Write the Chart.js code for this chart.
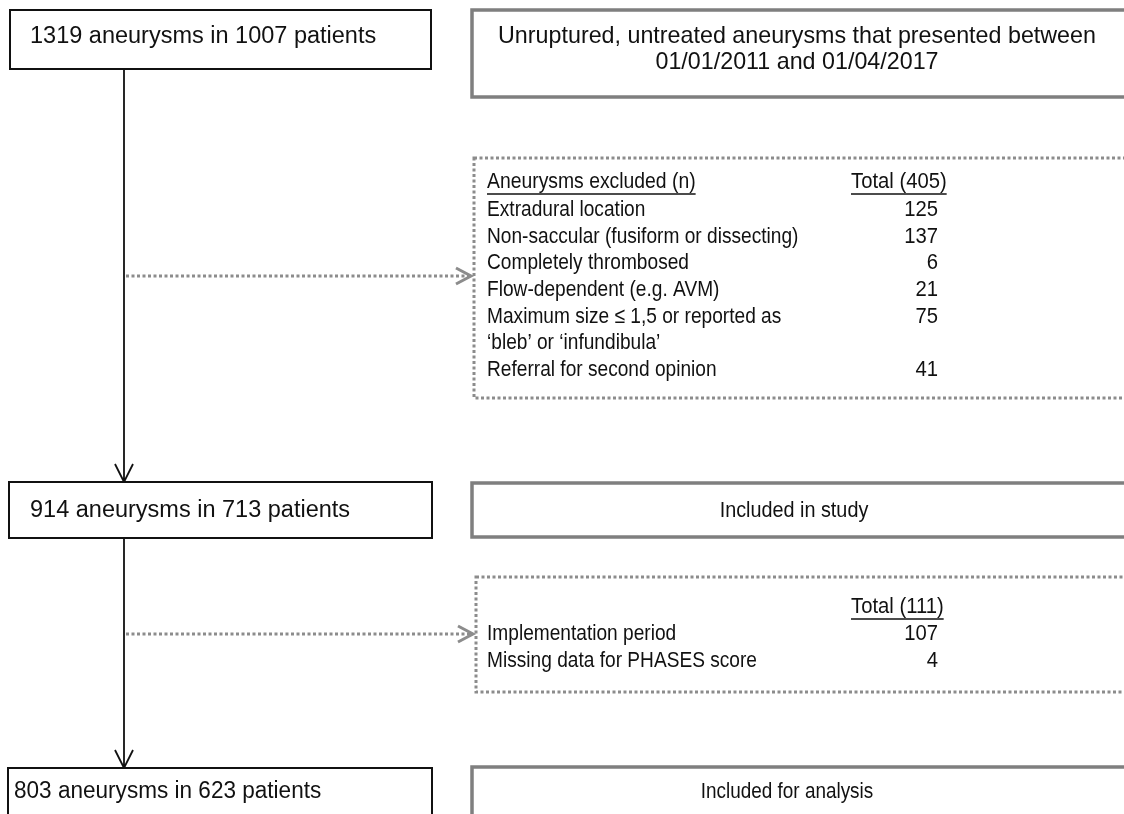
<!DOCTYPE html>
<html>
<head>
<meta charset="utf-8">
<script src="https://cdn.jsdelivr.net/npm/chart.js@4.4.1/dist/chart.umd.min.js"></script>
<style>
  html, body { margin: 0; padding: 0; background: #fff; }
  #wrap { width: 1124px; height: 814px; position: relative; }
</style>
</head>
<body>
<div id="wrap"><canvas id="flowChart"></canvas></div>
<script>
// Study flow: aneurysms / patients at each stage
const aneurysmCounts = [1319, 914, 803];
const patientCounts = [1007, 713, 623];
const stageNotes = [
  ["Unruptured, untreated aneurysms that presented between", "01/01/2011 and 01/04/2017"],
  ["Included in study"],
  ["Included for analysis"],
];

// first exclusion step
const exclusionHeader1 = "Aneurysms excluded (n)";
const exclusionReasons1 = [
  ["Extradural location"],
  ["Non-saccular (fusiform or dissecting)"],
  ["Completely thrombosed"],
  ["Flow-dependent (e.g. AVM)"],
  ["Maximum size \u2264 1,5 or reported as", "\u2018bleb\u2019 or \u2018infundibula\u2019"],
  ["Referral for second opinion"],
];
const exclusionCounts1 = [125, 137, 6, 21, 75, 41];

// second exclusion step
const exclusionHeader2 = "";
const exclusionReasons2 = [["Implementation period"], ["Missing data for PHASES score"]];
const exclusionCounts2 = [107, 4];

// positions (in scale units, which equal pixels here)
const layout = {
  mainX: 124,
  stageBoxes: [
    { x0: 10, x1: 431, y0: 10, y1: 69, tx: 30, ty: 37, squeeze: 1 },
    { x0: 9, x1: 432, y0: 482, y1: 538, tx: 30, ty: 511, squeeze: 1 },
    { x0: 8, x1: 432, y0: 768, y1: 840, tx: 14, ty: 792, squeeze: 0.96 },
  ],
  noteBoxes: [
    { x0: 472, y0: 10, y1: 97, cx: 797, lines: [36, 62], size: 24, squeeze: 0.97 },
    { x0: 472, y0: 483, y1: 537, cx: 794, lines: [511], size: 22, squeeze: 0.9 },
    { x0: 472, y0: 767, y1: 840, cx: 787, lines: [792], size: 22, squeeze: 0.86 },
  ],
  exclBoxes: [
    { x0: 474, y0: 158, y1: 398, headY: 182, rowY: 210, rowH: 26.6, arrowY: 276 },
    { x0: 476, y0: 577, y1: 692, headY: 607, rowY: 634, rowH: 26.5, arrowY: 634 },
  ],
  labelX: 487,
  countX: 938,
  totalX: 851,
};

const FONT = '"Liberation Sans", Arial, sans-serif';

function drawText(ctx, s, x, y, size, align, squeeze) {
  ctx.save();
  ctx.font = size + "px " + FONT;
  ctx.textBaseline = "middle";
  ctx.textAlign = align;
  ctx.fillStyle = "#111";
  ctx.translate(x, y);
  ctx.scale(squeeze, 1);
  ctx.fillText(s, 0, 0);
  const w = ctx.measureText(s).width * squeeze;
  ctx.restore();
  return w;
}

function underline(ctx, x, y, w) {
  ctx.save();
  ctx.strokeStyle = "#111";
  ctx.lineWidth = 1.5;
  ctx.beginPath();
  ctx.moveTo(x, y);
  ctx.lineTo(x + w, y);
  ctx.stroke();
  ctx.restore();
}

const flowPlugin = {
  id: "flow",
  afterDraw(chart) {
    const ctx = chart.ctx;
    const px = (v) => chart.scales.x.getPixelForValue(v);
    const py = (v) => chart.scales.y.getPixelForValue(v);
    const L = layout;

    // main vertical connector with open arrowheads
    ctx.save();
    ctx.strokeStyle = "#111";
    ctx.lineWidth = 1.8;
    for (let i = 0; i < L.stageBoxes.length - 1; i++) {
      const top = L.stageBoxes[i].y1, bot = L.stageBoxes[i + 1].y0;
      ctx.beginPath();
      ctx.moveTo(px(L.mainX), py(top));
      ctx.lineTo(px(L.mainX), py(bot));
      ctx.moveTo(px(L.mainX - 9), py(bot - 18));
      ctx.lineTo(px(L.mainX), py(bot));
      ctx.lineTo(px(L.mainX + 9), py(bot - 18));
      ctx.stroke();
    }
    ctx.restore();

    // left stage boxes
    L.stageBoxes.forEach((b, i) => {
      ctx.save();
      ctx.fillStyle = "#fff";
      ctx.strokeStyle = "#111";
      ctx.lineWidth = 2;
      ctx.fillRect(px(b.x0), py(b.y0), px(b.x1) - px(b.x0), py(b.y1) - py(b.y0));
      ctx.strokeRect(px(b.x0), py(b.y0), px(b.x1) - px(b.x0), py(b.y1) - py(b.y0));
      ctx.restore();
      drawText(ctx, aneurysmCounts[i] + " aneurysms in " + patientCounts[i] + " patients",
        px(b.tx), py(b.ty), 23.5, "left", b.squeeze);
    });

    // right note boxes
    L.noteBoxes.forEach((b, i) => {
      ctx.save();
      ctx.strokeStyle = "#7f7f7f";
      ctx.lineWidth = 3.5;
      ctx.strokeRect(px(b.x0), py(b.y0), px(1140) - px(b.x0), py(b.y1) - py(b.y0));
      ctx.restore();
      stageNotes[i].forEach((line, j) => {
        drawText(ctx, line, px(b.cx), py(b.lines[j]), b.size, "center", b.squeeze);
      });
    });

    // exclusion boxes and dotted arrows
    const tables = [
      { head: exclusionHeader1, reasons: exclusionReasons1, counts: exclusionCounts1 },
      { head: exclusionHeader2, reasons: exclusionReasons2, counts: exclusionCounts2 },
    ];
    L.exclBoxes.forEach((b, i) => {
      ctx.save();
      ctx.strokeStyle = "#8c8c8c";
      ctx.lineWidth = 3;
      ctx.setLineDash([3, 2.5]);
      ctx.strokeRect(px(b.x0), py(b.y0), px(1140) - px(b.x0), py(b.y1) - py(b.y0));
      ctx.beginPath();
      ctx.moveTo(px(L.mainX + 2), py(b.arrowY));
      ctx.lineTo(px(b.x0 - 4), py(b.arrowY));
      ctx.stroke();
      ctx.setLineDash([]);
      ctx.beginPath();
      ctx.moveTo(px(b.x0 - 18), py(b.arrowY - 8));
      ctx.lineTo(px(b.x0 - 3), py(b.arrowY));
      ctx.lineTo(px(b.x0 - 18), py(b.arrowY + 8));
      ctx.stroke();
      ctx.restore();

      const t = tables[i];
      if (t.head) {
        const w = drawText(ctx, t.head, px(L.labelX), py(b.headY), 22.5, "left", 0.86);
        underline(ctx, px(L.labelX), py(b.headY + 12), w);
      }
      const total = t.counts.reduce((a, c) => a + c, 0);
      const tw = drawText(ctx, "Total (" + total + ")", px(L.totalX), py(b.headY), 22.5, "left", 0.9);
      underline(ctx, px(L.totalX), py(b.headY + 12), tw);

      let y = b.rowY;
      t.reasons.forEach((lines, k) => {
        drawText(ctx, String(t.counts[k]), px(L.countX), py(y), 22.5, "right", 0.9);
        lines.forEach((line) => {
          drawText(ctx, line, px(L.labelX), py(y), 22.5, "left", 0.85);
          y += b.rowH;
        });
      });
    });
  },
};

new Chart(document.getElementById("flowChart"), {
  type: "scatter",
  data: { datasets: [{ data: [] }] },
  options: {
    responsive: true,
    maintainAspectRatio: false,
    animation: false,
    layout: { padding: 0 },
    plugins: { legend: { display: false }, tooltip: { enabled: false } },
    scales: {
      x: { type: "linear", min: 0, max: 1124, display: false },
      y: { type: "linear", min: 0, max: 814, reverse: true, display: false },
    },
  },
  plugins: [flowPlugin],
});
</script>
</body>
</html>
